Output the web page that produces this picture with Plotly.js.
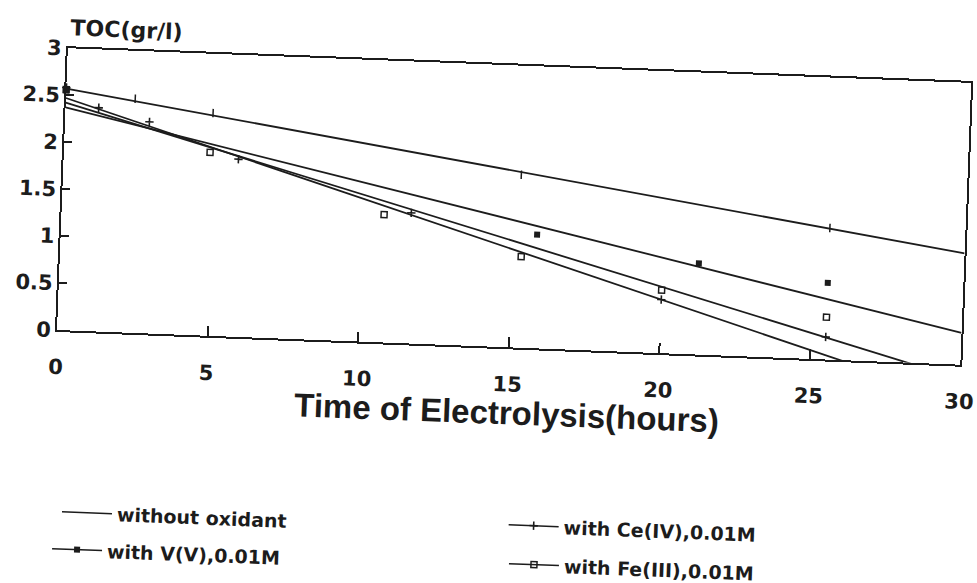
<!DOCTYPE html>
<html><head><meta charset="utf-8">
<script src="https://cdn.plot.ly/plotly-3.0.1.min.js"></script>
<style>
html,body{margin:0;padding:0;background:#fff;overflow:hidden;}
#wrap{width:977px;height:583px;transform:rotate(2.2deg);transform-origin:57px 330px;}
</style></head>
<body><div id="wrap"><div id="chart" style="width:977px;height:583px"></div></div>
<script>
// ---- data ----
const seriesNames = ["without oxidant", "with Ce(IV),0.01M", "with V(V),0.01M", "with Fe(III),0.01M"];

// fitted straight lines (value at t=0 and t=30 h)
const fitTimes = [0, 30];
const fitWithout = [2.57, 1.185];
const fitCe = [2.47, -0.38];
const fitV = [2.37, 0.338];
const fitFe = [2.42, -0.151];

// measured points
const timesWithout = [0, 2.3, 4.9, 15.2, 25.5];
const tocWithout = [2.58, 2.49, 2.37, 1.84, 1.40];
const timesCe = [0, 1.1, 2.8, 5.8, 11.6, 20.0, 25.5];
const tocCe = [2.58, 2.38, 2.25, 1.89, 1.39, 0.57, 0.24];
const timesV = [0, 15.8, 21.2, 25.5];
const tocV = [2.55, 1.21, 0.97, 0.815];
const timesFe = [0, 4.85, 10.7, 15.3, 20.0, 25.5];
const tocFe = [2.56, 1.95, 1.36, 0.97, 0.67, 0.45];

const xTickVals = [0, 5, 10, 15, 20, 25, 30];
const xTickText = ["0", "5", "10", "15", "20", "25", "30"];
const yTickVals = [0, 0.5, 1, 1.5, 2, 2.5, 3];
const yTickText = ["0", "0.5", "1", "1.5", "2", "2.5", "3"];
const xTitle = "Time of Electrolysis(hours)";
const yTitle = "TOC(gr/l)";

// ---- styling ----
const INK = '#1c1c1c';
const LW = 1.8;

const series = [
  {name: seriesNames[0], fit: fitWithout, t: timesWithout, v: tocWithout,
   marker: {symbol: 'line-ns-open', size: 6, color: INK, line: {color: INK, width: 1.5}},
   legendMode: 'lines', legend: 'legend'},
  {name: seriesNames[1], fit: fitCe, t: timesCe, v: tocCe,
   marker: {symbol: 'cross-thin-open', size: 6, color: INK, line: {color: INK, width: 1.6}},
   legendMode: 'lines+markers', legend: 'legend2'},
  {name: seriesNames[2], fit: fitV, t: timesV, v: tocV,
   marker: {symbol: 'square', size: 6, color: INK, line: {color: INK, width: 0}},
   legendMode: 'lines+markers', legend: 'legend3'},
  {name: seriesNames[3], fit: fitFe, t: timesFe, v: tocFe,
   marker: {symbol: 'square-open', size: 6, color: INK, line: {color: INK, width: 1.5}},
   legendMode: 'lines+markers', legend: 'legend4'}
];

const traces = [];
series.forEach(s => {
  traces.push({x: fitTimes, y: s.fit, mode: 'lines', line: {color: INK, width: LW},
               showlegend: false, hoverinfo: 'skip', name: s.name});
  traces.push({x: s.t, y: s.v, mode: 'markers', marker: s.marker,
               showlegend: false, name: s.name, cliponaxis: false});
});
// legend entries
series.forEach(s => {
  traces.push({x: [null], y: [null], mode: s.legendMode, name: s.name,
               line: {color: INK, width: 1.5}, marker: s.marker, legend: s.legend, showlegend: true});
});

const tickFont = {family: 'DejaVu Sans', size: 21, color: INK, weight: 'bold'};
const legFont = {family: 'DejaVu Sans', size: 19, color: INK, weight: 'bold'};

function legendAt(x, y) {
  return {orientation: 'h', xanchor: 'left', yanchor: 'middle', x: x, y: y,
    itemwidth: 50, font: legFont, bgcolor: 'rgba(0,0,0,0)', borderwidth: 0};
}

const layout = {
  width: 977, height: 583,
  margin: {l: 57, r: 16, t: 48, b: 253, pad: 0},
  paper_bgcolor: '#ffffff', plot_bgcolor: '#ffffff',
  showlegend: true,
  xaxis: {range: [0, 30], tickmode: 'array', tickvals: xTickVals, ticktext: xTickText,
    ticks: 'inside', ticklen: 10, tickwidth: 2, tickcolor: INK,
    showline: true, linewidth: 2, linecolor: INK, mirror: true,
    showgrid: false, zeroline: false, tickfont: tickFont, ticklabelstandoff: 17, fixedrange: true},
  yaxis: {range: [0, 3], tickmode: 'array', tickvals: yTickVals, ticktext: yTickText,
    ticks: 'inside', ticklen: 8, tickwidth: 2, tickcolor: INK,
    showline: true, linewidth: 2, linecolor: INK, mirror: true,
    showgrid: false, zeroline: false, tickfont: tickFont, ticklabelstandoff: 0, fixedrange: true},
  legend: legendAt(0.0077, -0.644),
  legend2: legendAt(0.502, -0.629),
  legend3: legendAt(-0.0017, -0.776),
  legend4: legendAt(0.504, -0.767),
  annotations: [
    {text: yTitle, xref: 'paper', yref: 'paper', x: 0, y: 1.072, xanchor: 'left', yanchor: 'middle',
     showarrow: false, font: {family: 'DejaVu Sans', size: 22, color: INK, weight: 'bold'}},
    {text: xTitle, xref: 'paper', yref: 'paper', x: 0.5, y: -0.231, xanchor: 'center', yanchor: 'middle',
     showarrow: false, font: {family: 'Liberation Sans', size: 33, color: INK, weight: 'bold'}}
  ]
};

Plotly.newPlot('chart', traces, layout, {displayModeBar: false, staticPlot: true});
</script>
</body></html>
